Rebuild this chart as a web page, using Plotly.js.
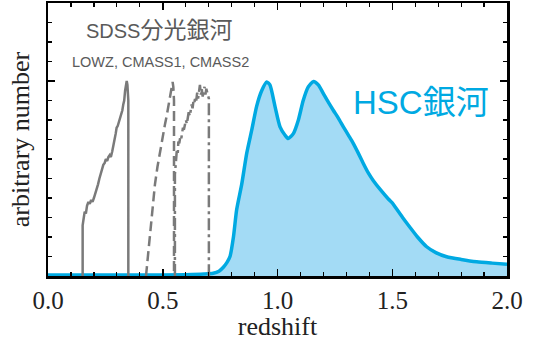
<!DOCTYPE html>
<html>
<head>
<meta charset="utf-8">
<script src="https://cdn.plot.ly/plotly-3.0.1.min.js"></script>
<style>html,body{margin:0;padding:0;background:#fff;}#chart{width:534px;height:341px;}</style>
</head>
<body>
<div id="chart"></div>
<script>
// LOWZ sample (solid)
const lowzZ = [0.151,0.151,0.156,0.160,0.165,0.170,0.176,0.182,0.188,0.194,0.200,0.206,0.212,0.218,0.224,0.230,0.236,0.241,0.247,0.252,0.258,0.263,0.269,0.274,0.280,0.285,0.290,0.295,0.299,0.304,0.309,0.314,0.319,0.324,0.328,0.332,0.336,0.340,0.343,0.346,0.348,0.350,0.350];
const lowzN = [0,0.26,0.30,0.33,0.32,0.36,0.38,0.37,0.39,0.38,0.40,0.42,0.45,0.47,0.50,0.53,0.55,0.57,0.58,0.60,0.59,0.61,0.62,0.61,0.64,0.68,0.70,0.73,0.76,0.77,0.79,0.81,0.84,0.85,0.88,0.90,0.95,0.98,1.00,0.98,0.95,0.90,0];
// CMASS1 sample (dashed)
const cmass1Z = [0.427,0.435,0.444,0.455,0.466,0.477,0.488,0.495,0.502,0.510,0.517,0.525,0.532,0.538,0.543,0.546,0.549,0.549];
const cmass1N = [0,0.10,0.23,0.35,0.47,0.56,0.64,0.69,0.74,0.78,0.82,0.87,0.91,0.95,0.995,0.97,0.90,0];
// CMASS2 sample (dash-dot)
const cmass2Z = [0.553,0.553,0.557,0.561,0.565,0.568,0.572,0.576,0.580,0.584,0.588,0.592,0.597,0.601,0.605,0.609,0.613,0.618,0.622,0.626,0.630,0.634,0.638,0.642,0.646,0.650,0.654,0.658,0.662,0.666,0.670,0.674,0.678,0.682,0.686,0.690,0.694,0.698,0.701,0.701];
const cmass2N = [0,0.52,0.58,0.64,0.62,0.69,0.68,0.71,0.70,0.74,0.76,0.75,0.79,0.80,0.78,0.83,0.84,0.82,0.86,0.88,0.86,0.90,0.89,0.92,0.90,0.94,0.91,0.96,0.98,0.93,0.96,0.92,0.95,0.97,0.93,0.96,0.94,0.92,0.91,0];
// HSC galaxies
const hscZ = [0,0.2,0.4,0.6,0.68,0.72,0.745,0.764,0.78,0.793,0.808,0.822,0.844,0.866,0.888,0.909,0.931,0.953,0.967,0.989,1.011,1.033,1.047,1.069,1.091,1.112,1.134,1.157,1.178,1.2,1.222,1.243,1.265,1.287,1.31,1.33,1.352,1.374,1.395,1.417,1.45,1.483,1.5,1.512,1.545,1.577,1.61,1.65,1.69,1.737,1.8,1.868,1.935,2.0];
const hscN = [0.005,0.005,0.005,0.007,0.01,0.014,0.025,0.045,0.07,0.10,0.20,0.34,0.47,0.63,0.75,0.87,0.95,0.995,0.98,0.87,0.765,0.722,0.705,0.73,0.80,0.90,0.97,0.998,0.98,0.935,0.89,0.85,0.81,0.765,0.72,0.68,0.63,0.577,0.53,0.49,0.44,0.395,0.375,0.355,0.30,0.25,0.20,0.15,0.12,0.099,0.085,0.073,0.066,0.06];

const xTickVals = [0, 0.5, 1.0, 1.5, 2.0];
const xTickText = ['0.0', '0.5', '1.0', '1.5', '2.0'];

const gray = '#7a7a7a';
const blue = '#00a9e2';

const traces = [
  {x: hscZ, y: hscN, type: 'scatter', mode: 'lines', fill: 'tozeroy',
   fillcolor: '#a3dbf5', line: {color: blue, width: 3.5, shape: 'spline', smoothing: 0.6}, hoverinfo: 'skip'},
  {x: lowzZ, y: lowzN, type: 'scatter', mode: 'lines', line: {color: gray, width: 2.5}},
  {x: cmass1Z, y: cmass1N, type: 'scatter', mode: 'lines', line: {color: gray, width: 2.5, dash: '10px,5px'}},
  {x: cmass2Z, y: cmass2N, type: 'scatter', mode: 'lines', line: {color: gray, width: 2.5, dash: '12px,4px,3px,4px'}}
];

const serif = 'Liberation Serif, Times New Roman, serif';
const sans = 'Liberation Sans, Arial, Noto Sans CJK JP, sans-serif';

const layout = {
  width: 534, height: 341,
  margin: {l: 48, r: 27, t: 3, b: 65},
  paper_bgcolor: '#fff', plot_bgcolor: '#fff',
  showlegend: false,
  xaxis: {
    range: [0, 2.0], tickvals: xTickVals, ticktext: xTickText,
    ticks: 'inside', ticklen: 7, tickwidth: 1.5, tickcolor: '#000',
    minor: {dtick: 0.1, tick0: 0, ticks: 'inside', ticklen: 4, tickwidth: 1.2, tickcolor: '#000'},
    showline: true, linecolor: '#000', linewidth: 2.5, mirror: 'ticks',
    showgrid: false, zeroline: false,
    tickfont: {family: serif, size: 25, color: '#222'},
    title: {text: 'redshift', font: {family: serif, size: 26, color: '#222'}, standoff: 5}
  },
  yaxis: {
    range: [0, 1.4], dtick: 1, tick0: 0, showticklabels: false,
    ticks: 'inside', ticklen: 7, tickwidth: 1.5, tickcolor: '#000',
    minor: {dtick: 0.1, tick0: 0, ticks: 'inside', ticklen: 4, tickwidth: 1.2, tickcolor: '#000'},
    showline: true, linecolor: '#000', linewidth: 2.5, mirror: 'ticks',
    showgrid: false, zeroline: false,
    title: {text: 'arbitrary number', font: {family: serif, size: 26, color: '#222'}, standoff: 9}
  },
  annotations: [
    {x: 0.484, y: 1.262, xref: 'x', yref: 'y', showarrow: false,
     text: 'SDSS<span style="font-size:23px">分光銀河</span>',
     font: {family: sans, size: 20, color: '#5a5a5a'}},
    {x: 0.488, y: 1.096, xref: 'x', yref: 'y', showarrow: false,
     text: 'LOWZ, CMASS1, CMASS2',
     font: {family: sans, size: 14.5, color: '#5a5a5a'}},
    {x: 1.625, y: 0.888, xref: 'x', yref: 'y', showarrow: false,
     text: 'HSC銀河',
     font: {family: sans, size: 33, color: blue}}
  ]
};

Plotly.newPlot('chart', traces, layout, {displayModeBar: false, staticPlot: true});
</script>
</body>
</html>
